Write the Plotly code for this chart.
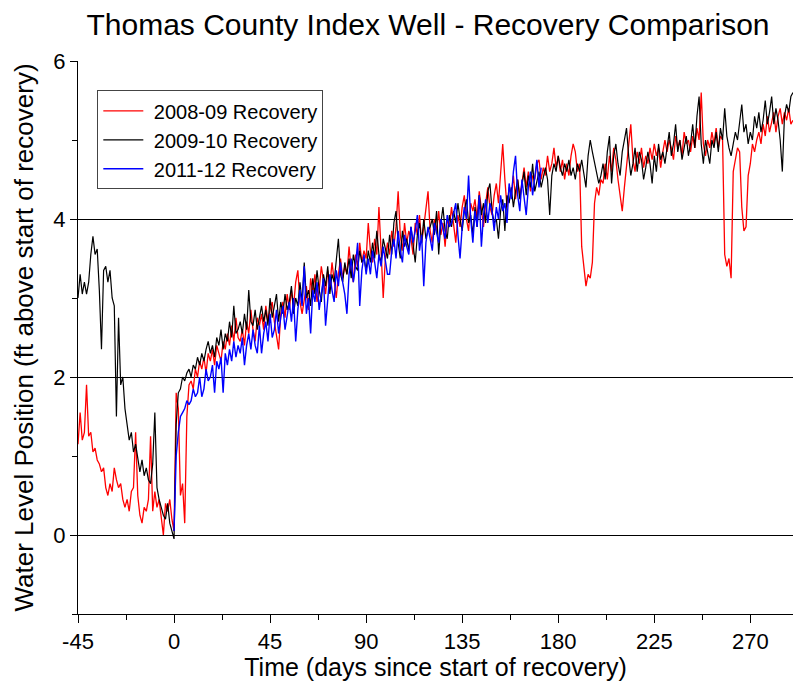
import plotly.graph_objects as go

# ---- data (days since start of recovery; daily readings) ----
red_vals = [
    1.15, 1.55, 1.2, 1.3, 1.9, 1.25, 1.3, 1.05, 1.1, 0.95,
    0.9, 0.8, 0.85, 0.6, 0.5, 0.65, 0.55, 0.85, 0.7, 0.6,
    0.65, 0.45, 0.35, 0.45, 0.3, 0.55, 0.6, 1.3, 0.5, 0.25,
    0.15, 0.35, 0.3, 0.45, 1.25, 0.3, 0.55, 0.35, 0.45, 0.2,
    0.0, 0.4, 0.3, 0.45, 0.2,
    0.05, 1.8, 1.6, 0.5, 0.65, 0.15, 1.5, 1.9, 1.95, 1.85, 2.1,
    2.0, 2.2, 2.1, 2.25, 2.05, 2.3, 2.2, 2.35, 2.15, 2.4,
    2.3, 2.2, 2.45, 2.35, 2.55, 2.4, 2.65, 2.45, 2.75, 2.5,
    2.45, 2.6, 2.4, 2.7, 2.55, 2.85, 2.6, 2.45, 2.75, 2.65,
    2.8, 2.6, 2.9, 2.7, 2.85, 2.95, 2.7, 2.55, 2.35, 2.8,
    2.95, 2.75, 3.05, 2.85, 3.1, 2.9, 3.2, 3.35, 2.95, 2.8,
    3.0, 3.15, 2.85, 3.25, 3.05, 3.3, 2.95, 3.1, 3.4, 3.2,
    3.05, 3.35, 3.15, 3.45, 3.2, 3.0, 3.3, 3.5, 3.25, 3.4,
    3.3, 3.65, 3.35, 3.2, 3.55, 3.4, 3.7, 3.45, 3.6, 3.5,
    3.95, 3.6, 3.45, 3.75, 3.55, 4.15, 3.6, 3.0, 3.5, 3.7,
    3.55, 3.85, 3.65, 3.9, 4.35, 3.8, 3.6, 3.95, 3.7, 3.85,
    3.75, 3.55, 3.95, 3.8, 4.05, 3.7, 3.9, 4.1, 4.35, 3.85,
    3.7, 4.0, 3.85, 4.1, 3.8, 3.95, 3.65, 4.0, 3.9, 4.15,
    3.95, 3.7, 4.05, 3.9, 4.15, 4.3, 4.0, 3.85, 4.2, 4.1,
    4.25, 4.0, 4.35, 4.1, 3.9, 4.2, 4.4, 4.15, 4.05, 4.3,
    4.45, 4.2, 4.6, 4.95, 4.5, 4.15, 4.4, 4.3, 4.55, 4.25,
    4.5, 4.3, 4.45, 4.65, 4.4, 4.6, 4.35, 4.55, 4.5, 4.7,
    4.75, 4.5, 4.65, 4.55, 4.8, 4.6, 4.7, 4.9, 4.65, 4.8,
    4.6, 4.75, 4.5, 4.7, 4.55, 4.8, 4.95, 4.85, 4.6, 4.7,
    3.65, 3.4, 3.15, 3.3, 3.25, 3.45, 4.2, 4.4, 4.3, 4.5,
    4.45, 4.7, 4.5, 4.8, 4.6, 4.9, 4.75, 4.5, 4.3, 4.1,
    4.4, 4.7, 4.95, 5.2, 4.75, 4.6, 4.85, 4.7, 4.9, 4.65,
    4.8, 4.7, 4.9, 4.75, 4.95, 4.8, 4.9, 4.65, 4.85, 5.0,
    4.85, 5.0, 4.9, 4.75, 5.05, 4.9, 5.0, 4.8, 5.1, 4.95,
    5.0, 4.85, 5.05, 4.9, 5.15, 5.0, 5.6, 4.95, 4.8, 5.0,
    4.9, 5.1, 4.95, 5.15, 4.9, 5.05, 5.0, 3.55, 3.4, 3.5,
    3.25, 4.6, 4.75, 4.9, 4.85, 4.15, 3.85, 3.9, 4.55, 4.7,
    4.95, 4.85, 5.0, 5.1, 4.95, 5.2, 5.05, 5.3, 5.1, 5.25,
    5.35, 5.1, 5.3, 5.4, 5.2, 5.35, 5.25, 5.4, 5.2, 5.25,
]

black_vals = [
    3.0, 3.3, 3.05, 3.2, 3.05, 3.2, 3.55, 3.78, 3.55, 3.62,
    3.1, 2.35, 3.35, 3.4, 3.2, 3.35, 3.0, 2.9, 1.5, 2.75,
    1.9, 2.0, 1.6, 1.4, 1.2, 1.3, 1.05, 1.15, 0.95, 0.8,
    0.95, 0.75, 0.85, 0.7, 0.65, 0.9, 1.55, 0.6, 0.45, 0.35,
    0.25, 0.2, 0.4, 0.15, 0.05,
    -0.05, 1.4, 1.8, 1.85, 2.0, 1.95, 2.05, 2.1, 2.0, 2.15, 2.1,
    2.25, 2.15, 2.3, 2.2, 2.35, 2.45, 2.3, 2.4, 2.25, 2.5,
    2.4, 2.6, 2.35, 2.55, 2.45, 2.7, 2.5, 2.9, 2.55, 2.6,
    2.7, 2.55, 2.8, 2.6, 3.1, 2.7, 2.65, 2.85, 2.6, 2.75,
    2.9, 2.7, 2.85, 2.65, 3.0, 2.75, 2.9, 3.05, 2.7, 2.95,
    2.8, 3.05, 2.85, 2.95, 3.15, 2.8, 3.0, 2.9, 3.2, 2.95,
    3.45, 3.0, 3.1, 2.9, 3.25, 3.05, 3.35, 3.1, 2.95, 3.3,
    3.15, 3.4, 3.05, 3.3, 3.2, 3.5, 3.75, 3.3, 3.2, 3.45,
    3.3, 3.5, 3.25, 3.55, 3.4, 3.35, 3.6, 3.45, 3.5, 3.35,
    3.6, 3.45, 3.7, 3.5, 3.85, 3.55, 3.45, 3.75, 3.6, 3.5,
    3.8, 3.55, 3.95, 4.1, 3.7, 3.5, 3.85, 3.65, 3.75, 3.6,
    3.9, 3.7, 3.45, 3.8, 3.95, 3.7, 4.0, 3.75, 3.85, 3.9,
    4.0, 3.8, 4.1, 3.55, 3.95, 4.15, 3.85, 3.75, 4.05, 3.9,
    4.1, 3.95, 4.2, 4.0, 3.85, 4.1, 4.25, 3.95, 4.05, 3.8,
    4.15, 3.9, 4.3, 4.05, 4.2, 3.95, 4.35, 4.45, 4.1, 3.95,
    4.0, 3.75, 4.1, 4.25, 3.85, 4.3, 4.2, 4.4, 4.15, 4.35,
    4.5, 4.25, 4.45, 4.6, 4.3, 4.55, 4.4, 4.7, 4.35, 4.5,
    4.6, 4.4, 4.55, 4.65, 4.5, 4.05, 4.55, 4.7, 4.6, 4.8,
    4.65, 4.55, 4.7, 4.6, 4.75, 4.55, 4.65, 4.5, 4.7, 4.6,
    4.75, 4.6, 4.4, 4.8, 5.0, 4.85, 4.7, 4.6, 4.45, 4.55,
    4.7, 4.5, 4.85, 5.05, 4.45, 4.8, 4.95, 4.7, 4.55, 4.85,
    5.0, 5.15, 4.8, 4.55, 4.7, 4.9, 4.6, 4.85, 4.75, 4.5,
    4.65, 4.85, 4.7, 4.45, 4.8, 4.6, 4.95, 4.75, 4.85, 4.7,
    4.9, 5.1, 4.8, 4.95, 5.2, 4.85, 5.0, 4.75, 4.9, 5.05,
    4.8, 4.95, 5.2, 4.9, 5.3, 5.55, 4.95, 4.7, 5.0, 4.85,
    4.7, 5.0, 4.9, 5.1, 4.85, 5.15, 5.0, 5.4, 5.05, 4.9,
    4.8, 4.95, 5.1, 5.0, 5.25, 5.45, 5.1, 5.2, 4.95, 5.1,
    5.0, 5.3, 5.15, 5.35, 5.1, 5.25, 5.5, 5.2, 5.35, 5.55,
    5.2, 5.4, 5.25, 5.0, 4.6, 5.3, 5.45, 5.35, 5.55, 5.6,
]

blue_vals = [
    0.05, 1.0, 1.3, 1.5, 1.55, 1.6, 1.7, 1.65, 1.7, 1.85, 1.75,
    1.8, 2.0, 1.75, 1.85, 2.1, 1.95, 2.0, 2.15, 1.8, 2.2,
    2.1, 2.25, 1.8, 2.3, 2.15, 2.35, 2.2, 2.45, 2.25, 2.4,
    2.3, 2.5, 2.15, 2.4, 2.55, 2.35, 2.6, 2.4, 2.3, 2.65,
    2.3, 2.55, 2.7, 2.45, 2.8, 2.5, 2.6, 2.85, 2.55, 2.75,
    2.9, 2.6, 2.8, 2.95, 2.7, 3.0, 2.45, 2.85, 3.1, 2.9,
    3.4, 2.8, 3.0, 2.55, 3.1, 2.95, 3.2, 2.85, 3.05, 3.25,
    2.65, 3.0, 3.3, 3.1, 2.95, 3.35, 3.15, 3.45, 3.2, 3.05,
    2.8, 3.3, 3.5, 3.2, 3.4, 3.7, 2.9, 3.35, 3.55, 3.3,
    3.5, 3.3, 3.6, 3.45, 3.25, 3.55, 3.4, 3.65, 3.5, 3.3,
    3.3, 3.6, 3.75, 3.5, 3.85, 3.6, 3.45, 3.8, 3.65, 3.55,
    3.9, 3.7, 3.85, 4.05, 3.6, 3.8, 3.15, 3.7, 3.9, 3.75,
    3.6, 3.95, 3.8, 3.7, 4.0, 3.85, 3.75, 4.05, 3.9, 3.95,
    4.1, 4.2, 3.8, 3.5, 3.9, 4.15, 4.0, 4.55, 4.0, 3.7,
    4.1, 3.9, 4.3, 3.65, 4.05, 4.25, 3.95, 4.2, 4.1, 3.85,
    4.15, 4.0, 4.3, 4.1, 4.2, 3.95, 4.45, 4.25, 4.6, 4.8,
    4.3, 4.1, 4.5, 4.25, 4.05, 4.4, 4.6, 4.3, 4.55, 4.75,
    4.4, 4.65,
]

red_days = list(range(-45, -45 + len(red_vals)))
black_days = list(range(-45, -45 + len(black_vals)))
blue_days = list(range(0, len(blue_vals)))

series_names = ["2008-09 Recovery", "2009-10 Recovery", "2011-12 Recovery"]
x_tick_vals = [-45, 0, 45, 90, 135, 180, 225, 270]
x_tick_text = ["-45", "0", "45", "90", "135", "180", "225", "270"]
y_tick_vals = [0, 2, 4, 6]

FONT = "Arial, 'Liberation Sans', sans-serif"

fig = go.Figure()
fig.add_trace(go.Scatter(x=red_days, y=red_vals, mode="lines", name=" " + series_names[0],
                         line=dict(color="#ff0000", width=1.3)))
fig.add_trace(go.Scatter(x=black_days, y=black_vals, mode="lines", name=" " + series_names[1],
                         line=dict(color="#000000", width=1.2)))
fig.add_trace(go.Scatter(x=blue_days, y=blue_vals, mode="lines", name=" " + series_names[2],
                         line=dict(color="#0000ff", width=1.4)))

fig.update_layout(
    width=793, height=681,
    margin=dict(l=78, r=0, t=61, b=67, autoexpand=False),
    paper_bgcolor="white", plot_bgcolor="white",
    font=dict(family=FONT, color="black"),
    hovermode=False,
    title=dict(text="Thomas County Index Well - Recovery Comparison",
               font=dict(size=30, family=FONT, color="black"),
               x=428 / 793, xref="container", xanchor="center",
               y=1 - 24 / 681, yref="container", yanchor="middle"),
    showlegend=True,
    legend=dict(x=0.027, y=0.947, xanchor="left", yanchor="top",
                bgcolor="white", bordercolor="#444444", borderwidth=1,
                tracegroupgap=0, itemwidth=40,
                font=dict(size=20, family=FONT, color="black")),
    xaxis=dict(range=[-45, 290], tickmode="array", tickvals=x_tick_vals, ticktext=x_tick_text,
               ticks="outside", ticklen=8, tickcolor="black", tickwidth=1,
               showline=True, linecolor="black", linewidth=1, automargin=False,
               showgrid=False, zeroline=False,
               tickfont=dict(size=22, family=FONT, color="black"),
               minor=dict(tickvals=[-22.5, 22.5, 67.5, 112.5, 157.5, 202.5, 247.5],
                          ticks="outside", ticklen=5, tickcolor="black", showgrid=False),
               title=dict(text="Time (days since start of recovery)",
                          font=dict(size=25, family=FONT, color="black"), standoff=4)),
    yaxis=dict(range=[-1, 6], tickmode="array", tickvals=y_tick_vals,
               ticks="outside", ticklen=7, tickcolor="black", tickwidth=1,
               showline=True, linecolor="black", linewidth=1, automargin=False,
               showgrid=True, gridcolor="black", gridwidth=1, zeroline=False,
               tickfont=dict(size=22, family=FONT, color="black"),
               minor=dict(tickvals=[-1, 1, 3, 5], ticks="outside", ticklen=5,
                          tickcolor="black", showgrid=False),
               title=dict(text="Water Level Position (ft above start of recovery)",
                          font=dict(size=26, family=FONT, color="black"), standoff=12)),
)

fig.write_html("out.html",
               config={"displayModeBar": False, "staticPlot": True},
               post_script="document.body.style.margin='0';document.body.style.padding='0';")
